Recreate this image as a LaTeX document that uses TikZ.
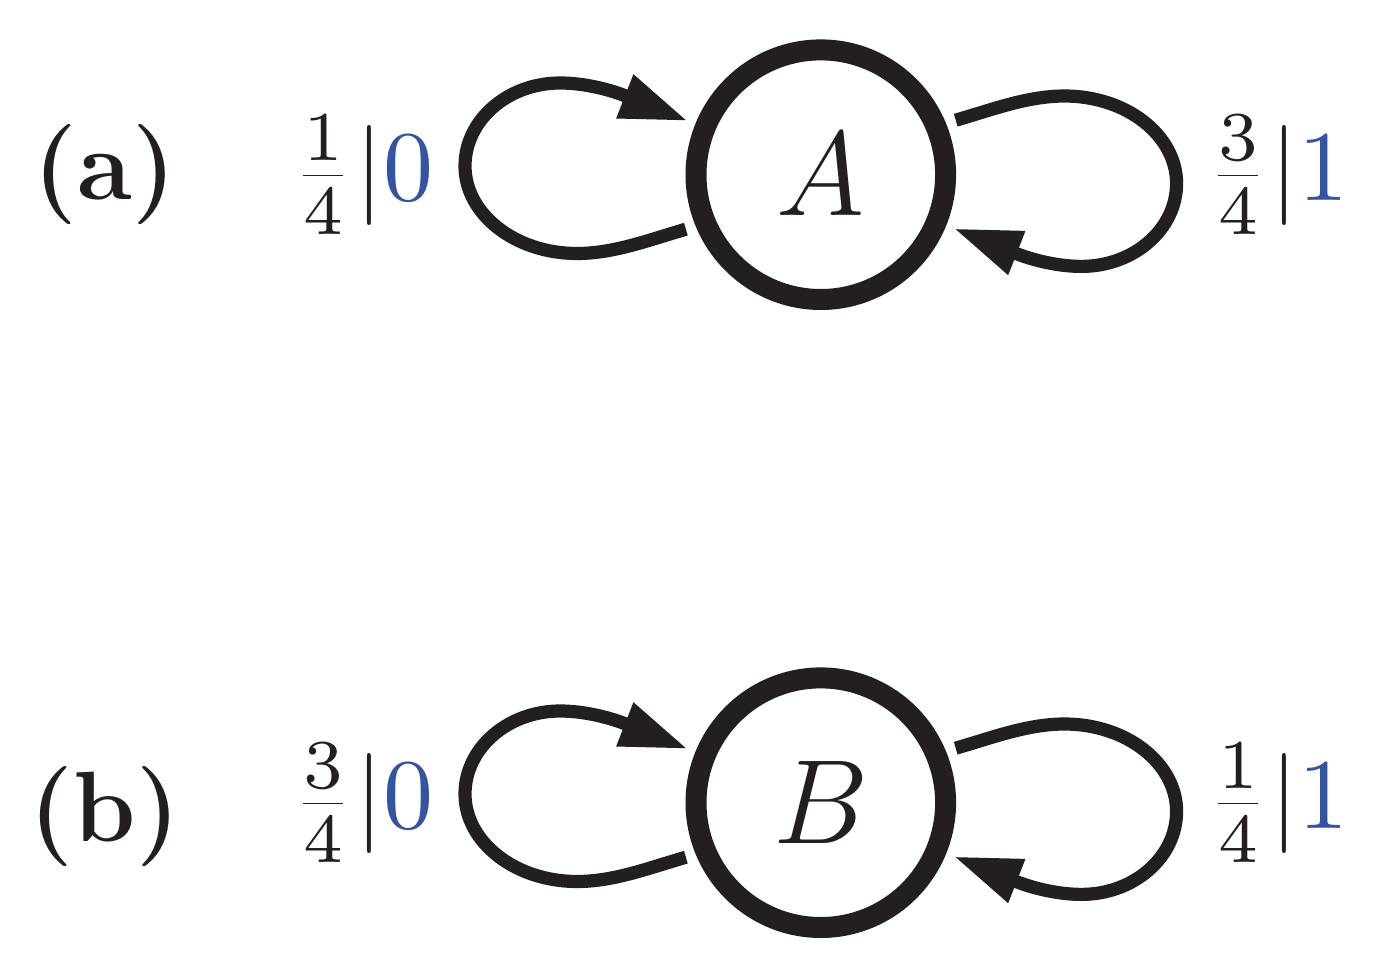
\RequirePackage{fix-cm}
\documentclass[tikz,border=0pt]{standalone}
\usetikzlibrary{arrows.meta}
\definecolor{ink}{RGB}{35,31,32}
\definecolor{outblue}{RGB}{52,83,160}
\font\labnumfont=cmr7 at 35pt
\font\labdigfont=cmr10 at 50pt
\newcommand\fraclab[3]{{\nulldelimiterspace=6pt$\frac{\hbox{\labnumfont #1}}{\hbox{\labnumfont #2}}|\hbox{\color{outblue}\labdigfont #3}$}}
\begin{document}
\begin{tikzpicture}[x=0.5pt,y=-0.5pt,
  state/.style={circle,draw=ink,line width=10.5pt,minimum size=124.8pt,inner sep=0pt,outer sep=10.35pt,font=\fontsize{60}{72}\selectfont,text=ink},
  loopline/.style={draw=ink,line width=6.6pt,-{Triangle[length=32.8pt,width=23.8pt,line width=0pt]}},
  lbl/.style={inner sep=0pt,text=ink,font=\fontsize{50}{60}\selectfont},
]
\useasboundingbox (0,0) rectangle (1373,975);
% panel (a)
\begin{scope}
\node[lbl] (pa) at (105,175) {\textbf{(a)}};
\node[state] (A) at (820.8,174.7) {$A$};
\coordinate (aBot) at (577,253.5);
\coordinate (aL) at (465,166);
\coordinate (aTop) at (560,83);
\coordinate (aTopR) at (1064.6,96);
\coordinate (aR) at (1176.6,183.4);
\coordinate (aBotR) at (1081.6,266.4);
\node[lbl,anchor=west] (la) at (291,175) {\fraclab{1}{4}{0}};
\node[lbl,anchor=west] (ra) at (1206,175) {\fraclab{3}{4}{1}};
\draw[loopline] (A.202) .. controls +(-37,10.7) and +(37,0) .. (aBot)
  .. controls +(-62,0) and +(0,48) .. (aL)
  .. controls +(0,-46) and +(-52,0) .. (aTop)
  .. controls +(44,0) and +(-41,-16) .. (A.158);
\draw[loopline] (A.22) .. controls +(37,-10.7) and +(-37,0) .. (aTopR)
  .. controls +(62,0) and +(0,-48) .. (aR)
  .. controls +(0,46) and +(52,0) .. (aBotR)
  .. controls +(-44,0) and +(41,16) .. (A.338);
\end{scope}
% panel (b)
\begin{scope}[shift={(0,628)}]
\node[lbl] (pb) at (105,189) {\textbf{(b)}};
\node[state] (B) at (820.8,174.7) {$B$};
\coordinate (bBot) at (577,253.5);
\coordinate (bL) at (465,166);
\coordinate (bTop) at (560,83);
\coordinate (bTopR) at (1064.6,96);
\coordinate (bR) at (1176.6,183.4);
\coordinate (bBotR) at (1081.6,266.4);
\node[lbl,anchor=west] (lb) at (291,175) {\fraclab{3}{4}{0}};
\node[lbl,anchor=west] (rb) at (1206,175) {\fraclab{1}{4}{1}};
\draw[loopline] (B.202) .. controls +(-37,10.7) and +(37,0) .. (bBot)
  .. controls +(-62,0) and +(0,48) .. (bL)
  .. controls +(0,-46) and +(-52,0) .. (bTop)
  .. controls +(44,0) and +(-41,-16) .. (B.158);
\draw[loopline] (B.22) .. controls +(37,-10.7) and +(-37,0) .. (bTopR)
  .. controls +(62,0) and +(0,-48) .. (bR)
  .. controls +(0,46) and +(52,0) .. (bBotR)
  .. controls +(-44,0) and +(41,16) .. (B.338);
\end{scope}
\end{tikzpicture}
\end{document}
